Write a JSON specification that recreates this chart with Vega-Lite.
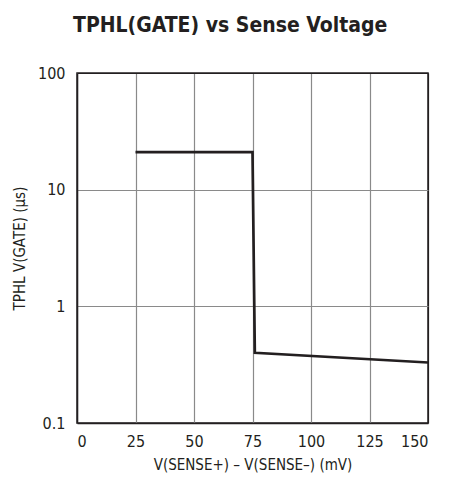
{
  "$schema": "https://vega.github.io/schema/vega-lite/v6.json",
  "width": 351,
  "height": 350,
  "autosize": "none",
  "padding": {"left": 77, "top": 73, "right": 33, "bottom": 60},
  "background": "white",
  "title": {
    "text": "TPHL(GATE) vs Sense Voltage",
    "font": "DejaVu Sans Condensed, Roboto, sans-serif",
    "fontWeight": "bold",
    "fontSize": 21,
    "color": "#231f20",
    "anchor": "start",
    "frame": "group",
    "offset": 29,
    "dx": -4
  },
  "config": {
    "view": {"stroke": "#231f20", "strokeWidth": 1.5},
    "axis": {
      "labelFont": "DejaVu Sans Condensed, Roboto, sans-serif",
      "titleFont": "DejaVu Sans Condensed, Roboto, sans-serif",
      "labelFontSize": 16,
      "titleFontSize": 15,
      "titleFontWeight": "normal",
      "labelColor": "#231f20",
      "titleColor": "#231f20",
      "ticks": false,
      "domainColor": "#231f20",
      "domainWidth": 1.5,
      "gridWidth": 1.2
    }
  },
  "data": {
    "values": [
      {"x": 25, "y": 21},
      {"x": 75, "y": 21},
      {"x": 76, "y": 0.4},
      {"x": 150, "y": 0.33}
    ]
  },
  "mark": {"type": "line", "color": "#231f20", "strokeWidth": 2.7},
  "encoding": {
    "x": {
      "field": "x",
      "type": "quantitative",
      "scale": {"domain": [0, 150], "nice": false},
      "axis": {
        "values": [0, 25, 50, 75, 100, 125, 150],
        "title": "V(SENSE+) – V(SENSE–) (mV)",
        "labelPadding": 10,
        "titlePadding": 8,
        "gridColor": {"condition": {"test": "datum.value === 150", "value": "#231f20"}, "value": "#8a8a8a"}
      }
    },
    "y": {
      "field": "y",
      "type": "quantitative",
      "scale": {"type": "log", "domain": [0.1, 100]},
      "axis": {
        "values": [0.1, 1, 10, 100],
        "format": "~g",
        "title": "TPHL V(GATE) (µs)",
        "labelPadding": 12,
        "titlePadding": 10,
        "gridColor": {"condition": {"test": "datum.value === 100", "value": "#231f20"}, "value": "#8a8a8a"}
      }
    }
  }
}
